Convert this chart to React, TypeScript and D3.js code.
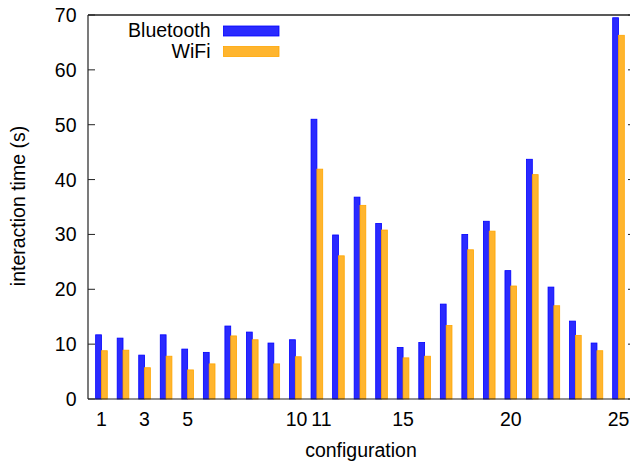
import React from "react";
import * as d3 from "d3";

const configs: number[] = Array.from({ length: 25 }, (_, i) => i + 1);
const bluetooth: number[] = [11.7, 11.1, 8.0, 11.7, 9.1, 8.5, 13.3, 12.2, 10.2, 10.8, 51.0, 29.9, 36.8, 32.0, 9.4, 10.3, 17.3, 30.0, 32.4, 23.4, 43.7, 20.4, 14.2, 10.2, 69.5];
const wifi: number[] = [8.8, 8.9, 5.7, 7.8, 5.3, 6.4, 11.5, 10.8, 6.4, 7.7, 41.9, 26.1, 35.3, 30.8, 7.5, 7.8, 13.4, 27.2, 30.6, 20.6, 40.9, 17.0, 11.6, 8.8, 66.3];
const xTickLabels: number[] = [1, 3, 5, 10, 11, 15, 20, 25];
const yTicks: number[] = [0, 10, 20, 30, 40, 50, 60, 70];
const seriesNames: string[] = ["Bluetooth", "WiFi"];

const W = 630;
const H = 461;
const left = 88;
const right = 635;
const top = 15;
const bottom = 399;
const font = "'Liberation Sans', Arial, Helvetica, sans-serif";

export default function App() {
  const x = d3.scaleLinear().domain([0.375, 25.766]).range([left, right]);
  const y = d3.scaleLinear().domain([0, 70]).range([bottom, top]);
  const bw = x(1.27) - x(1);
  const colors = [
    { fill: "#2a2aff", stroke: "#0000ff" },
    { fill: "#ffb52e", stroke: "#ffa500" },
  ];
  const textProps = { fontFamily: font, fontSize: 19.5, fill: "#000" };
  // the "10" / "11" labels are pushed slightly apart in the original
  const nudge = (t: number) => (t === 11 ? 4.5 : t === 10 ? 1.2 : 0);
  return (
    <svg width={W} height={H} style={{ position: "absolute", left: 0, top: 0 }}>
      <rect width={W} height={H} fill="#fff" />
      {configs.map((c, i) => (
        <g key={c}>
          <rect
            x={x(c) - bw}
            y={y(bluetooth[i])}
            width={bw}
            height={y(0) - y(bluetooth[i])}
            fill={colors[0].fill}
            stroke={colors[0].stroke}
            strokeWidth={0.8}
          />
          <rect
            x={x(c)}
            y={y(wifi[i])}
            width={bw}
            height={y(0) - y(wifi[i])}
            fill={colors[1].fill}
            stroke={colors[1].stroke}
            strokeWidth={0.8}
          />
        </g>
      ))}
      {/* borders: left, top, bottom */}
      <line x1={left} x2={left} y1={top} y2={bottom} stroke="#222" strokeWidth={1.2} />
      <line x1={left} x2={W} y1={top} y2={top} stroke="#222" strokeWidth={1.5} />
      <line x1={left} x2={W} y1={bottom} y2={bottom} stroke="#222" strokeWidth={1.2} />
      {yTicks.map((t) => (
        <g key={t}>
          <line x1={left} x2={left + 7} y1={y(t)} y2={y(t)} stroke="#222" strokeWidth={1} />
          <line x1={right - 7} x2={right} y1={y(t)} y2={y(t)} stroke="#222" strokeWidth={1} />
          <text x={76.5} y={y(t)} dy="0.36em" textAnchor="end" {...textProps}>
            {t}
          </text>
        </g>
      ))}
      {xTickLabels.map((t) => (
        <text key={t} x={x(t) + nudge(t)} y={426} textAnchor="middle" {...textProps}>
          {t}
        </text>
      ))}
      <text x={361} y={456.5} textAnchor="middle" {...textProps}>
        configuration
      </text>
      <text
        transform={`translate(24.5,${(top + bottom) / 2 - 1}) rotate(-90)`}
        textAnchor="middle"
        {...textProps}
      >
        interaction time (s)
      </text>
      {seriesNames.map((n, i) => (
        <g key={n}>
          <text x={210.5} y={36.7 + i * 21} textAnchor="end" {...textProps}>
            {n}
          </text>
          <rect
            x={223.5}
            y={26 + i * 20.5}
            width={55.5}
            height={10}
            fill={colors[i].fill}
            stroke={colors[i].stroke}
            strokeWidth={0.8}
          />
        </g>
      ))}
    </svg>
  );
}
